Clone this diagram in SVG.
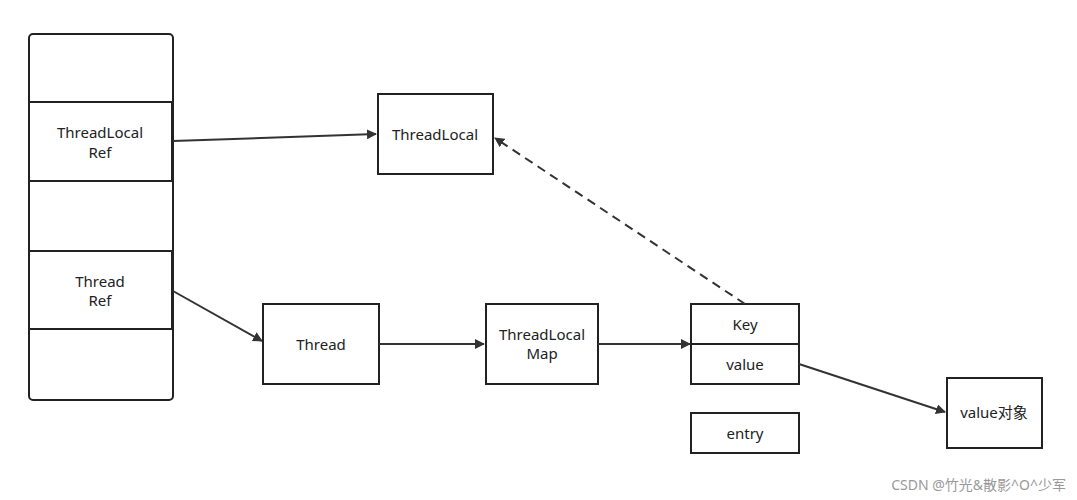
<svg xmlns="http://www.w3.org/2000/svg" width="1077" height="500" viewBox="0 0 1077 500">
<style>
.b{fill:#fff;stroke:#222;stroke-width:2}
.t{font-family:"Noto Sans","Noto Sans CJK SC",sans-serif;font-size:15px;fill:#222;text-anchor:middle}
.c{stroke:#333;stroke-width:2;fill:none;marker-end:url(#a)}
</style>
<defs><marker id="a" markerWidth="10" markerHeight="10" refX="9" refY="5" orient="auto" markerUnits="userSpaceOnUse"><path d="M0,0 L10,5 L0,10 Z" fill="#333"/></marker></defs>
<rect width="1077" height="500" fill="#fff"/>
<g id="stack"><rect class="b" x="29" y="34" width="144" height="366" rx="4"/></g>
<g id="tlref"><rect class="b" x="29" y="102" width="143" height="79"/><text class="t" x="100" y="138">ThreadLocal</text><text class="t" x="100" y="158">Ref</text></g>
<g id="tref"><rect class="b" x="29" y="251" width="143" height="78"/><text class="t" x="100" y="287">Thread</text><text class="t" x="100" y="306">Ref</text></g>
<g id="tl"><rect class="b" x="378" y="94" width="115" height="80"/><text class="t" x="435" y="140">ThreadLocal</text></g>
<g id="thread"><rect class="b" x="263" y="304" width="116" height="80"/><text class="t" x="321" y="350">Thread</text></g>
<g id="map"><rect class="b" x="486" y="304" width="112" height="80"/><text class="t" x="542" y="340">ThreadLocal</text><text class="t" x="542" y="359">Map</text></g>
<g id="entrykv"><rect class="b" x="691" y="304" width="108" height="80"/><line x1="691" y1="344" x2="799" y2="344" stroke="#222" stroke-width="2"/><text class="t" x="745" y="330">Key</text><text class="t" x="745" y="370">value</text></g>
<g id="entry"><rect class="b" x="691" y="413" width="108" height="40"/><text class="t" x="745" y="439">entry</text></g>
<g id="vobj"><rect class="b" x="947" y="378" width="95" height="70"/><text class="t" x="994" y="418">value对象</text></g>
<g id="connectors">
<line class="c" x1="173" y1="141" x2="376" y2="134"/>
<line class="c" x1="173" y1="291" x2="262" y2="341"/>
<line class="c" x1="379" y1="344" x2="484" y2="344"/>
<line class="c" x1="598" y1="344" x2="690" y2="344"/>
<line class="c" x1="745" y1="304" x2="495" y2="138" stroke-dasharray="9,6"/>
<line class="c" x1="799" y1="364" x2="945" y2="412"/>
</g>
<text x="1066" y="490" font-family="'Noto Sans','Noto Sans CJK SC',sans-serif" font-size="14" fill="#999" text-anchor="end">CSDN @竹光&amp;散影^O^少军</text>
</svg>
